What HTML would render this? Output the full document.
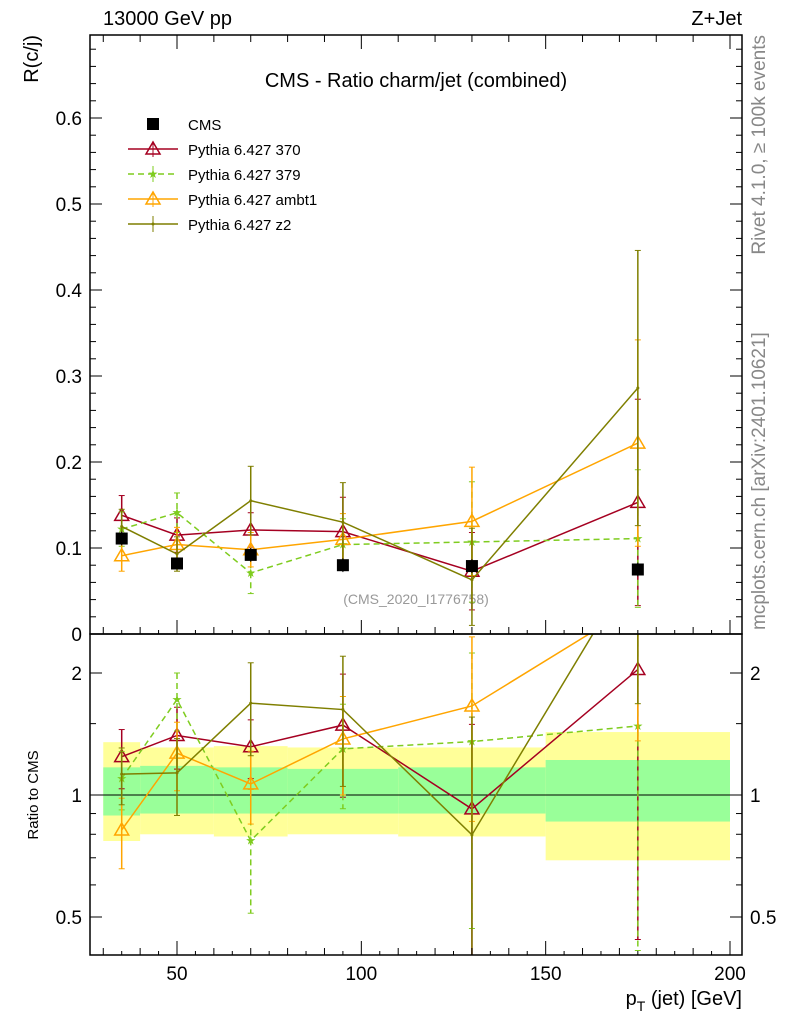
<!DOCTYPE html>
<html><head><meta charset="utf-8"><style>
html,body{margin:0;padding:0;background:#fff;width:786px;height:1024px;overflow:hidden}
svg{display:block}
text{font-family:"Liberation Sans",sans-serif}
</style></head><body>
<svg id="c" width="786" height="1024" xmlns="http://www.w3.org/2000/svg">
<text x="103" y="25" font-size="20">13000 GeV pp</text>
<text x="742" y="25" font-size="20" text-anchor="end">Z+Jet</text>
<text x="416" y="87" font-size="20" text-anchor="middle">CMS - Ratio charm/jet (combined)</text>
<text x="416" y="604" font-size="14" fill="#999" text-anchor="middle">(CMS_2020_I1776758)</text>
<text transform="translate(38,35) rotate(-90)" font-size="20" text-anchor="end">R(c/j)</text>
<text transform="translate(38,795) rotate(-90)" font-size="15" text-anchor="middle">Ratio to CMS</text>
<text x="742" y="1005" font-size="20" text-anchor="end">p<tspan font-size="14" dy="6">T</tspan><tspan dy="-6"> (jet) [GeV]</tspan></text>
<text transform="translate(765,35) rotate(-90)" font-size="19" fill="#888" text-anchor="end">Rivet 4.1.0, ≥ 100k events</text>
<text transform="translate(765,630) rotate(-90)" font-size="19" fill="#888">mcplots.cern.ch [arXiv:2401.10621]</text>
<g id="g"></g>
</svg>
<script>
const xs=[35,50,70,95,130,175];
const edges=[30,40,60,80,110,150,200];
const cms=[0.111,0.082,0.092,0.080,0.079,0.075];
const cmsErr=[0.008,0.007,0.008,0.008,0.008,0.008];
const p370=[0.138,0.115,0.121,0.119,0.073,0.153];
const e370=[0.023,0.02,0.02,0.04,0.045,0.12];
const p379=[0.122,0.141,0.071,0.104,0.107,0.111];
const e379=[0.02,0.023,0.024,0.03,0.07,0.08];
const pamb=[0.091,0.104,0.098,0.110,0.131,0.222];
const eamb=[0.018,0.02,0.02,0.03,0.063,0.12];
const pz2=[0.125,0.093,0.155,0.130,0.063,0.286];
const ez2=[0.02,0.02,0.04,0.046,0.06,0.16];
const bandYelHi=[1.35,1.31,1.32,1.31,1.31,1.43];
const bandYelLo=[0.77,0.80,0.79,0.80,0.79,0.69];
const bandGrnHi=[1.17,1.18,1.17,1.16,1.17,1.22];
const bandGrnLo=[0.89,0.90,0.90,0.90,0.90,0.86];
const mainTicks=[0,0.1,0.2,0.3,0.4,0.5,0.6];
const ratioTicks=[0.5,1,2];
const xTicks=[50,100,150,200];

const L=90,R=742,T1=35,B1=634,B2=955;
const X=v=>177+(v-50)*553/150;
const Y=v=>634-v*860;
const YR=v=>795-Math.log2(v)*122;
const g=document.getElementById('g');
const NS='http://www.w3.org/2000/svg';
function el(t,a,p){const e=document.createElementNS(NS,t);for(const k in a)e.setAttribute(k,a[k]);(p||g).appendChild(e);return e;}
const defs=el('defs',{});
const c1=el('clipPath',{id:'c1'},defs);el('rect',{x:L,y:T1,width:R-L,height:B1-T1},c1);
const c2=el('clipPath',{id:'c2'},defs);el('rect',{x:L,y:B1,width:R-L,height:B2-B1},c2);
const gm=el('g',{'clip-path':'url(#c1)'});


const gr=el('g',{'clip-path':'url(#c2)'});


for(let i=0;i<6;i++){
 const x0=X(edges[i]),x1=X(edges[i+1]);
 const y=el('rect',{x:x0,y:YR(bandYelHi[i]),width:x1-x0,height:YR(bandYelLo[i])-YR(bandYelHi[i]),fill:'#ffff99'},gr);
 
 
 const gg=el('rect',{x:x0,y:YR(bandGrnHi[i]),width:x1-x0,height:YR(bandGrnLo[i])-YR(bandGrnHi[i]),fill:'#99ff99'},gr);
 
 
}
el('line',{x1:L,x2:R,y1:YR(1),y2:YR(1),stroke:'#000','stroke-width':1},gr);
function marker(type,x,y,col,par){
 if(type==='tri'){el('path',{d:`M${x},${y-7}L${x+7},${y+5}L${x-7},${y+5}Z`,fill:'none',stroke:col,'stroke-width':1.5},par);}
 else if(type==='star'){el('text',{x:x,y:y+4,'font-size':12,fill:col,'text-anchor':'middle'},par).textContent='★';}
 else if(type==='dot'){el('circle',{cx:x,cy:y,r:1.5,fill:col},par);}
}
const series=[
 {n:'pythia-370',v:p370,e:e370,c:'#a50021',d:'',m:'tri'},
 {n:'pythia-379',v:p379,e:e379,c:'#7fcc1f',d:'6,4',m:'star'},
 {n:'pythia-ambt1',v:pamb,e:eamb,c:'#ffa500',d:'',m:'tri'},
 {n:'pythia-z2',v:pz2,e:ez2,c:'#7f7f00',d:'',m:'dot'}];
series.forEach(s=>{
 [[gm,Y,s.v,s.e],[gr,YR,s.v.map((v,i)=>v/cms[i]),s.e.map((e,i)=>e/cms[i])]].forEach(([par,fy,vals,errs])=>{
  const sg=el('g',{},par);
  
  
  el('polyline',{points:xs.map((x,i)=>X(x)+','+fy(vals[i])).join(' '),fill:'none',stroke:s.c,'stroke-width':1.5,'stroke-dasharray':s.d},sg);
  xs.forEach((x,i)=>{
   const lo=Math.max(vals[i]-errs[i],0.01);
   el('line',{x1:X(x),x2:X(x),y1:fy(vals[i]+errs[i]),y2:fy(lo),stroke:s.c,'stroke-width':1.5,'stroke-dasharray':s.d},sg);
   el('line',{x1:X(x)-3,x2:X(x)+3,y1:fy(vals[i]+errs[i]),y2:fy(vals[i]+errs[i]),stroke:s.c},sg);
   el('line',{x1:X(x)-3,x2:X(x)+3,y1:fy(lo),y2:fy(lo),stroke:s.c},sg);
   marker(s.m,X(x),fy(vals[i]),s.c,sg);
  });
 });
});
xs.forEach((x,i)=>{
 const r=el('rect',{x:X(x)-6,y:Y(cms[i])-6,width:12,height:12,fill:'#000'},gm);
 
 
 el('line',{x1:X(x),x2:X(x),y1:Y(cms[i]+cmsErr[i]),y2:Y(cms[i]-cmsErr[i]),stroke:'#000'},gm);
});
el('rect',{x:L,y:T1,width:R-L,height:B1-T1,fill:'none',stroke:'#000','stroke-width':1.5});
el('rect',{x:L,y:B1,width:R-L,height:B2-B1,fill:'none',stroke:'#000','stroke-width':1.5});
mainTicks.forEach(t=>{
 el('line',{x1:L,x2:L+12,y1:Y(t),y2:Y(t),stroke:'#000'});el('line',{x1:R-12,x2:R,y1:Y(t),y2:Y(t),stroke:'#000'});
 const tx=el('text',{x:82,y:Y(t)+7,'font-size':19,'text-anchor':'end'});tx.textContent=t===0?'0':t.toFixed(1);
 
 
 for(let k=1;k<5;k++){const yy=Y(t+k*0.02);if(yy>T1){el('line',{x1:L,x2:L+6,y1:yy,y2:yy,stroke:'#000'});el('line',{x1:R-6,x2:R,y1:yy,y2:yy,stroke:'#000'});}}
});
ratioTicks.forEach(t=>{
 el('line',{x1:L,x2:L+12,y1:YR(t),y2:YR(t),stroke:'#000'});el('line',{x1:R-12,x2:R,y1:YR(t),y2:YR(t),stroke:'#000'});
 const a=el('text',{x:82,y:YR(t)+7,'font-size':19,'text-anchor':'end'});a.textContent=String(t);
 
 
 const b=el('text',{x:750,y:YR(t)+7,'font-size':19});b.textContent=String(t);
 
 
});
[0.6,0.7,0.8,0.9,1.5].forEach(t=>{el('line',{x1:L,x2:L+6,y1:YR(t),y2:YR(t),stroke:'#000'});el('line',{x1:R-6,x2:R,y1:YR(t),y2:YR(t),stroke:'#000'});});
for(let v=30;v<=200;v+=10){const big=v%50===0,h=big?14:7;
 [B1,B2].forEach(yb=>{el('line',{x1:X(v),x2:X(v),y1:yb,y2:yb-h,stroke:'#000'});});
 el('line',{x1:X(v),x2:X(v),y1:T1,y2:T1+h,stroke:'#000'});}
for(let v=35;v<=200;v+=10){[B1,B2].forEach(yb=>el('line',{x1:X(v),x2:X(v),y1:yb,y2:yb-4,stroke:'#000'}));}
xTicks.forEach(t=>{const a=el('text',{x:X(t),y:980,'font-size':19,'text-anchor':'middle'});a.textContent=String(t);
 
 });
const lg=el('g',{});


el('rect',{x:147,y:118,width:12,height:12,fill:'#000'},lg);
const labels=['CMS','Pythia 6.427 370','Pythia 6.427 379','Pythia 6.427 ambt1','Pythia 6.427 z2'];
labels.forEach((l,i)=>{const t=el('text',{x:188,y:130+i*25,'font-size':15},lg);t.textContent=l;
 
 });
series.forEach((s,i)=>{const y=149+i*25;
 el('line',{x1:128,x2:178,y1:y,y2:y,stroke:s.c,'stroke-width':1.5,'stroke-dasharray':s.d},lg);
 el('line',{x1:153,x2:153,y1:y-8,y2:y+8,stroke:s.c,'stroke-dasharray':s.d},lg);
 marker(s.m,153,y,s.c,lg);});
</script>
</body></html>
